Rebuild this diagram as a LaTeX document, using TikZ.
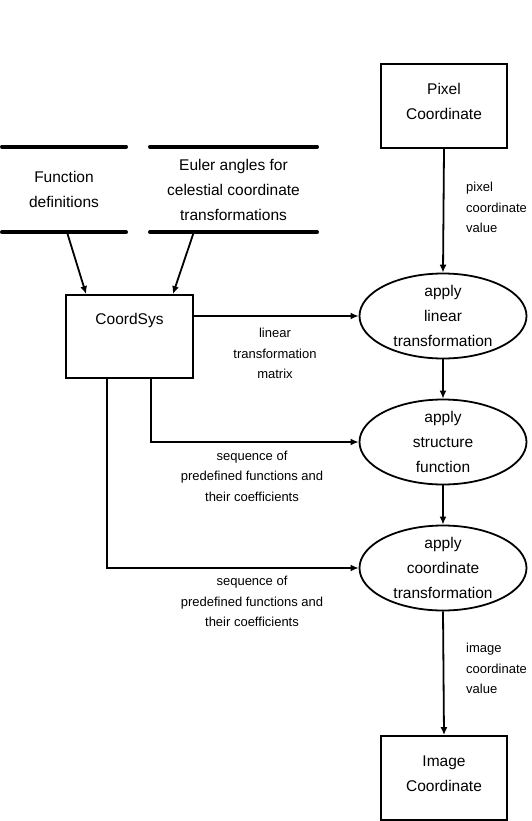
\documentclass[tikz,border=0pt]{standalone}
\usepackage{fontspec}
\setmainfont{Liberation Sans}
\usetikzlibrary{shapes.geometric,arrows.meta,calc}

\tikzset{
  box/.style={draw, line width=1.8pt, minimum width=126pt, minimum height=84pt, inner sep=0pt},
  proc/.style={ellipse, draw, line width=1.8pt, minimum width=167pt, minimum height=85pt, inner sep=0pt},
  boxtext/.style={align=center, inner sep=0pt, font=\fontsize{15.5}{25}\selectfont},
  store/.style={minimum height=85pt, inner sep=0pt, align=center, font=\fontsize{15.5}{25}\selectfont},
  storeline/.style={line width=3.5pt, line cap=round},
  flow/.style={line width=1.8pt, -{Latex[length=8pt,width=7pt]}},
  flowlabel/.style={inner sep=0pt, font=\fontsize{13}{20.5}\selectfont}
}

\begin{document}
\begin{tikzpicture}[x=1pt, y=-1pt]
\useasboundingbox (0,0) rectangle (531,821);

% boxes
\node[box] (pix) at (444,106) {};
\node[boxtext] (pixText) at (444,101.5) {Pixel\\Coordinate};
\node[box] (img) at (444,778) {};
\node[boxtext] (imgText) at (444,773.5) {Image\\Coordinate};
\node[box, minimum width=127pt, minimum height=83pt] (cs) at (129.5,336.5) {};
\node[boxtext] (csText) at (129.5,320) {CoordSys};

% data stores
\node[store, minimum width=124pt] (fdef) at (64,189.5) {Function\\definitions};
\draw[storeline] (fdef.north west) -- (fdef.north east);
\draw[storeline] (fdef.south west) -- (fdef.south east);
\node[store, minimum width=167pt] (euler) at (233.5,189.5) {Euler angles for\\celestial coordinate\\transformations};
\draw[storeline] (euler.north west) -- (euler.north east);
\draw[storeline] (euler.south west) -- (euler.south east);

% processes
\node[proc] (lin) at (443,316) {};
\node[boxtext] (linText) at (lin) {apply\\linear\\transformation};
\node[proc] (str) at (443,442) {};
\node[boxtext] (strText) at (str) {apply\\structure\\function};
\node[proc] (crd) at (443,568) {};
\node[boxtext] (crdText) at (crd) {apply\\coordinate\\transformation};

% flows
\draw[flow] ($(fdef.south)+(3,0)$) -- ($(cs.north west)+(21,0)$);
\draw[flow] ($(euler.south west)+(44,0)$) -- ($(cs.north east)+(-21,0)$);
\draw[flow] (pix.south) -- (lin.north);
\draw[flow] (lin.south) -- (str.north);
\draw[flow] (str.south) -- (crd.north);
\draw[flow] (crd.south) -- (img.north);
\draw[flow] (cs.east |- lin.west) -- (lin.west);
\draw[flow] ($(cs.south east)+(-43,0)$) |- (str.west);
\draw[flow] ($(cs.south west)+(42,0)$) |- (crd.west);

% flow labels
\node[flowlabel, anchor=west, align=left] (pixLabel) at (466,207.5) {pixel\\coordinate\\value};
\node[flowlabel, align=center] (linLabel) at (275,353.5) {linear\\transformation\\matrix};
\node[flowlabel, align=center] (strLabel) at (252,476) {sequence of\\predefined functions and\\their coefficients};
\node[flowlabel, align=center] (crdLabel) at (252,601.5) {sequence of\\predefined functions and\\their coefficients};
\node[flowlabel, anchor=west, align=left] (imgLabel) at (466,668.5) {image\\coordinate\\value};
\end{tikzpicture}
\end{document}
